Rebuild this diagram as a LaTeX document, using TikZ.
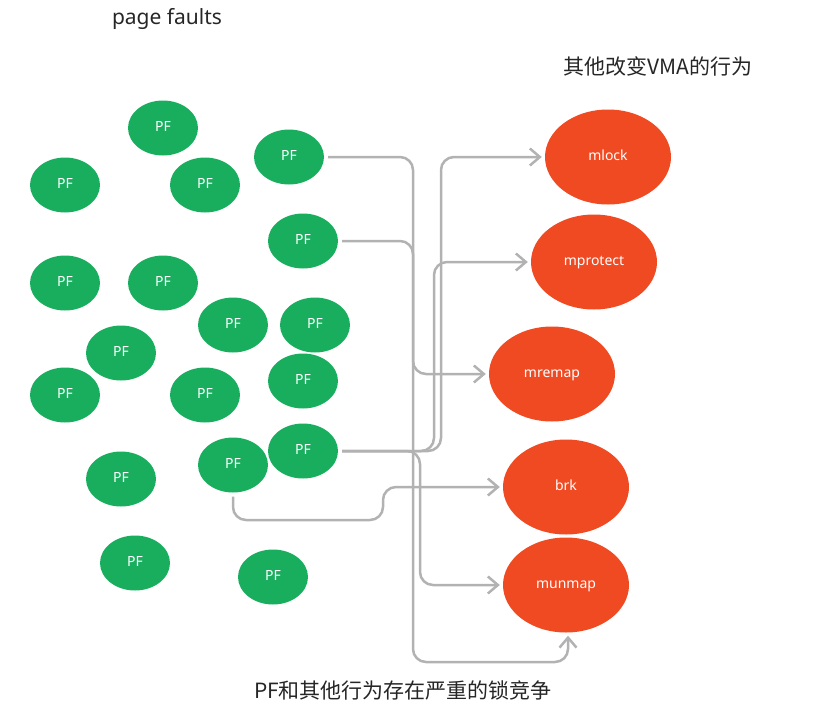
\documentclass[tikz,border=0pt]{standalone}
\usepackage{fontspec}
\setmainfont{Noto Sans}
\newfontfamily\cjk{Noto Sans CJK SC}
\usetikzlibrary{shapes.geometric,arrows.meta}
\definecolor{pfgreen}{HTML}{19AE5E}
\definecolor{opred}{HTML}{F04A23}
\definecolor{conngray}{HTML}{B2B2B2}
\tikzset{
  pf/.style={ellipse,fill=pfgreen,draw=none,inner sep=0pt,minimum width=70pt,minimum height=55pt,text=white,text height=0.72em,text depth=0pt,font=\fontsize{14}{14}\selectfont},
  op/.style={ellipse,fill=opred,draw=none,inner sep=0pt,minimum width=126pt,minimum height=95pt,text=white,text height=0.72em,text depth=0pt,font=\fontsize{14}{14}\selectfont},
  conn/.style={draw=conngray,line width=2.5pt,rounded corners=13pt,-{Straight Barb[length=10pt,width=17pt,line width=2.5pt]},shorten <=4pt,shorten >=3pt},
  title/.style={text=black!85,font=\fontsize{21}{21}\selectfont}
}
\begin{document}
\begin{tikzpicture}[x=1pt,y=-1pt]
\useasboundingbox (0,0) rectangle (828,720);
% titles
\node[title] (tpf) at (167,19) {page faults};
\node[title] (tvma) at (658,66) {\cjk 其他改变VMA的行为};
\node[title] (tbot) at (403,690) {\cjk PF和其他行为存在严重的锁竞争};
% page faults
\node[pf] (p1) at (163,128) {PF};
\node[pf] (p2) at (65,185) {PF};
\node[pf] (p3) at (205,185) {PF};
\node[pf] (p4) at (289,157) {PF};
\node[pf] (p5) at (303,241) {PF};
\node[pf] (p6) at (65,283) {PF};
\node[pf] (p7) at (163,283) {PF};
\node[pf] (p8) at (233,325) {PF};
\node[pf] (p9) at (315,325) {PF};
\node[pf] (p10) at (121,353) {PF};
\node[pf] (p11) at (65,395) {PF};
\node[pf] (p12) at (205,395) {PF};
\node[pf] (p13) at (303,381) {PF};
\node[pf] (p14) at (233,465) {PF};
\node[pf] (p15) at (303,451) {PF};
\node[pf] (p16) at (121,479) {PF};
\node[pf] (p17) at (135,563) {PF};
\node[pf] (p18) at (273,577) {PF};
% operations
\node[op] (mlock) at (608,157) {mlock};
\node[op] (mprotect) at (594,262) {mprotect};
\node[op] (mremap) at (552,374) {mremap};
\node[op] (brk) at (566,487) {brk};
\node[op] (munmap) at (566,585) {munmap};
% connectors
\draw[conn] (p4.east) -- (413,157) -- (413,374) -- (mremap.west);
\draw[conn] (p5.east) -- (413,241) -- (413,662) -- (568,662) -- (munmap.south -| 568,0);
\draw[conn] (p15.east) -- (441,451) -- (441,157) -- (mlock.west);
\draw[conn] (p15.east) -- (434,451) -- (434,262) -- (mprotect.west);
\draw[conn] (p15.east) -- (420,451) -- (420,585) -- (munmap.west);
\draw[conn] (p14.south) -- (233,520) -- (383,520) -- (383,487) -- (brk.west);
\end{tikzpicture}
\end{document}
